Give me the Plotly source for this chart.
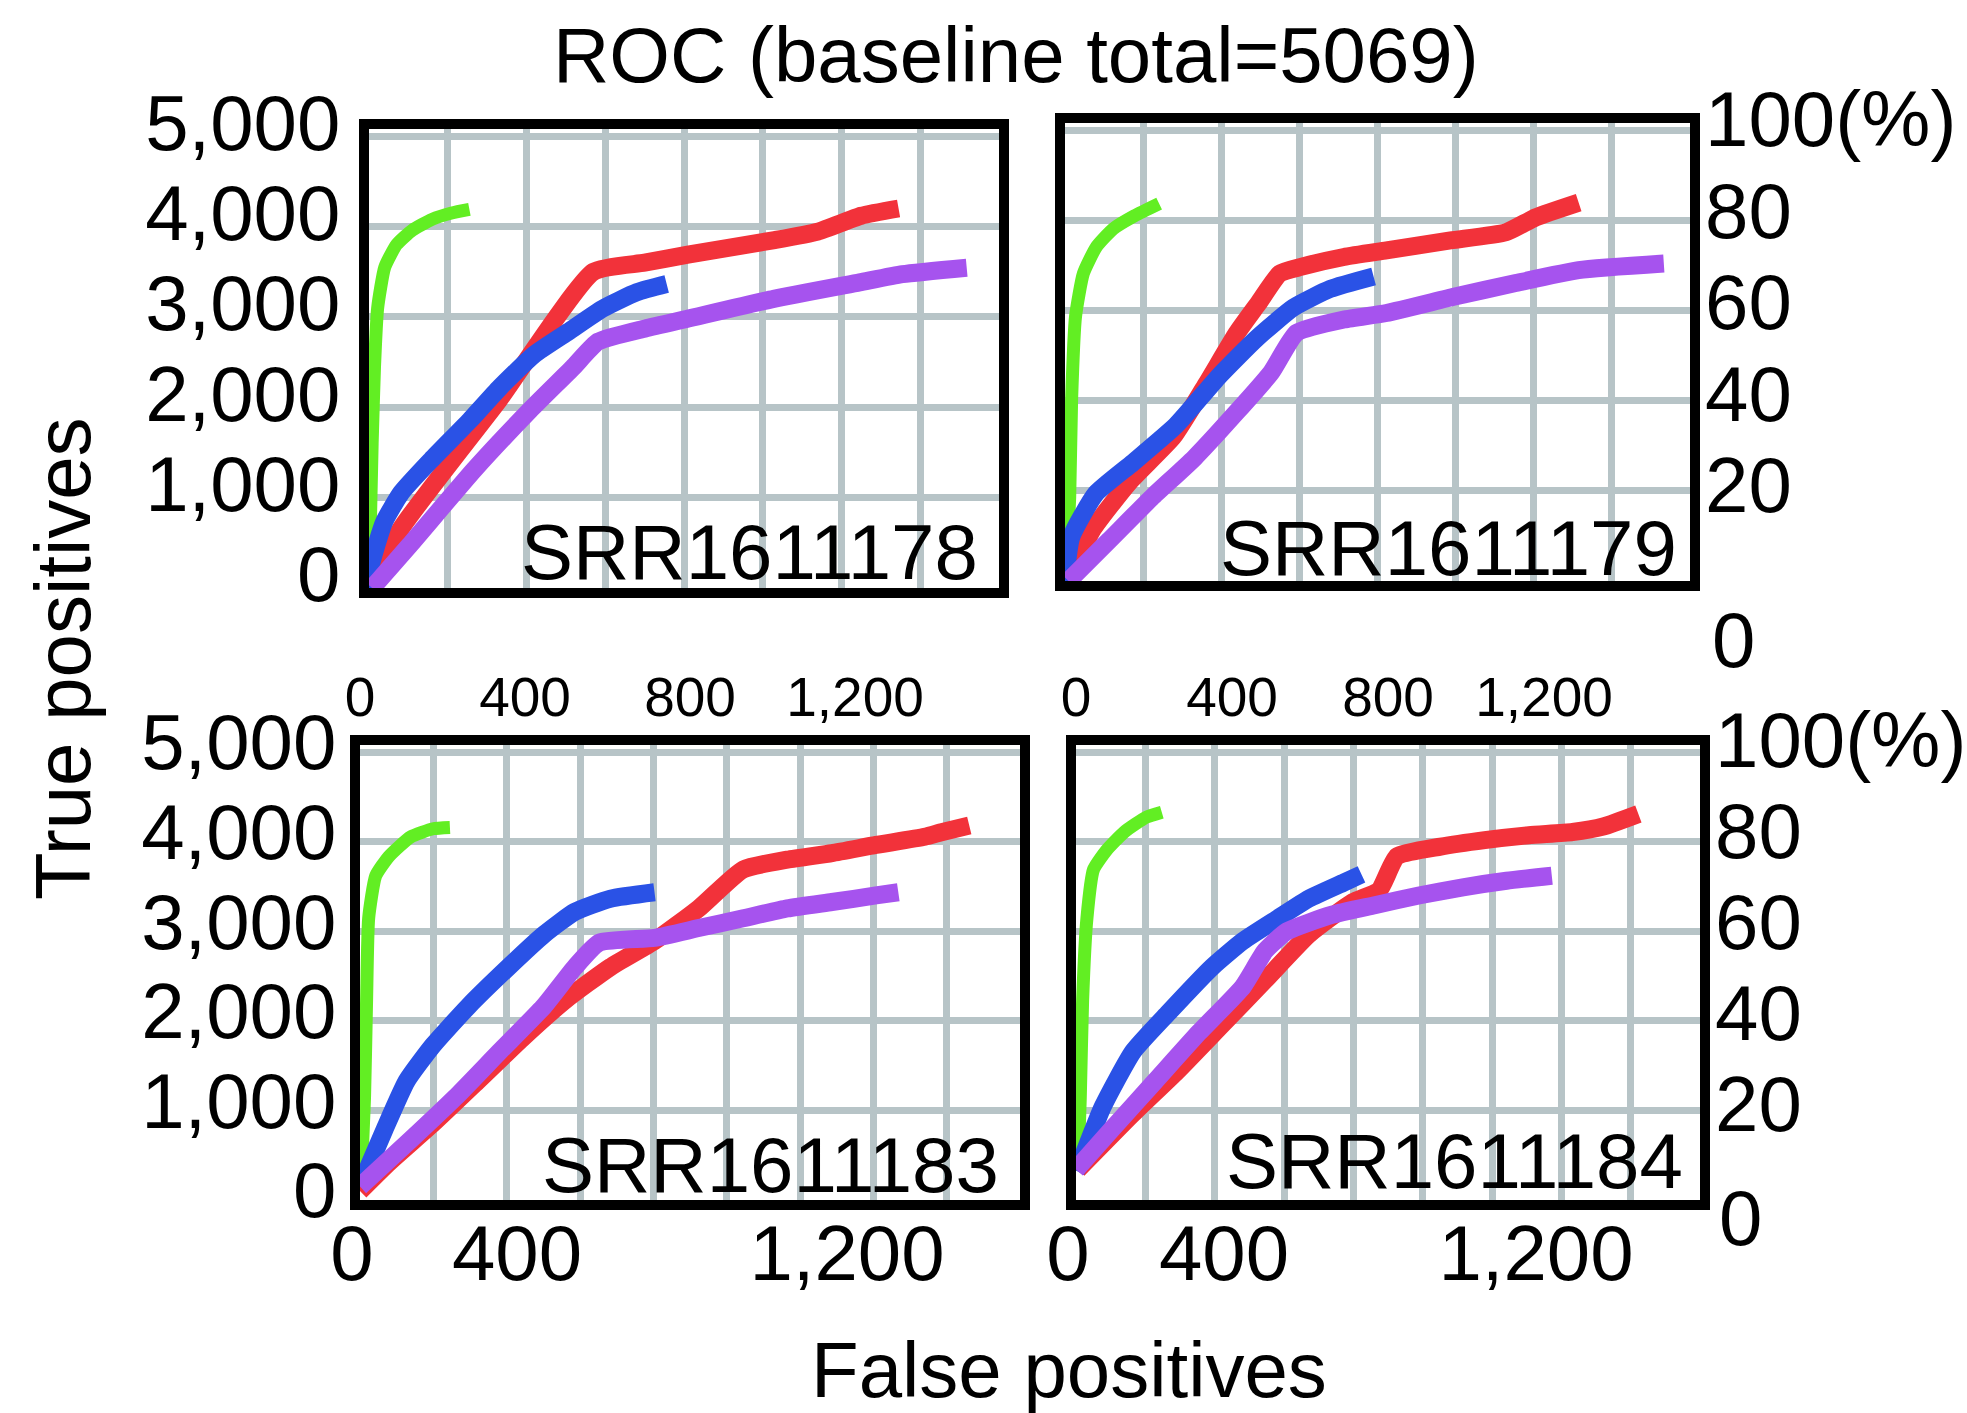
import plotly.graph_objects as go

W, H = 1967, 1413
FONT = "Liberation Sans, Arial, Helvetica, sans-serif"
BIG = 78
SMALL = 55

# ---------------- data (false positives, true positives) ----------------
panels = ["SRR1611178", "SRR1611179", "SRR1611183", "SRR1611184"]
baseline_total = 5069

# SRR1611178
p1_green_x = [0, 3, 8, 14, 22, 40, 70, 110, 160, 210, 255]
p1_green_y = [0, 600, 1600, 2450, 3100, 3550, 3800, 3960, 4080, 4150, 4190]
p1_red_x = [8, 80, 330, 570, 700, 810, 1030, 1140, 1250, 1345]
p1_red_y = [0, 650, 2080, 3500, 3600, 3690, 3850, 3945, 4120, 4200]
p1_blue_x = [0, 5, 38, 82, 158, 256, 332, 419, 506, 593, 680, 756]
p1_blue_y = [0, 255, 727, 1055, 1418, 1855, 2218, 2582, 2836, 3091, 3273, 3364]
p1_purple_x = [8, 103, 267, 408, 517, 582, 702, 811, 1028, 1246, 1355, 1518]
p1_purple_y = [0, 473, 1309, 1964, 2436, 2727, 2873, 2982, 3200, 3382, 3473, 3545]

# SRR1611179
p2_green_x = [0, 5, 12, 17, 27, 47, 80, 123, 178, 241]
p2_green_y = [0, 300, 925, 2022, 2936, 3411, 3704, 3905, 4051, 4186]
p2_red_x = [10, 69, 167, 277, 364, 440, 495, 550, 604, 714, 823, 987, 1129, 1205, 1315]
p2_red_y = [0, 559, 1108, 1600, 2200, 2750, 3080, 3411, 3484, 3594, 3667, 3777, 3868, 4033, 4197]
p2_blue_x = [0, 16, 79, 174, 284, 395, 490, 585, 679, 790]
p2_blue_y = [0, 488, 970, 1314, 1726, 2276, 2689, 3033, 3239, 3377]
p2_purple_x = [9, 113, 222, 331, 440, 528, 593, 714, 823, 998, 1151, 1315, 1533]
p2_purple_y = [0, 450, 925, 1364, 1876, 2314, 2753, 2900, 2973, 3155, 3302, 3448, 3521]

# SRR1611183
p3_green_x = [0, 3, 11, 16, 21, 38, 70, 123, 177, 218]
p3_green_y = [130, 300, 1145, 2236, 3145, 3618, 3836, 4055, 4145, 4160]
p3_red_x = [0, 70, 177, 285, 392, 499, 607, 714, 821, 929, 1036, 1144, 1251, 1369, 1412, 1477]
p3_red_y = [100, 418, 855, 1327, 1800, 2236, 2600, 2891, 3255, 3691, 3800, 3873, 3964, 4055, 4109, 4182]
p3_blue_x = [0, 59, 113, 177, 263, 360, 446, 521, 607, 714]
p3_blue_y = [150, 782, 1327, 1727, 2164, 2600, 2964, 3218, 3364, 3436]
p3_purple_x = [0, 123, 231, 338, 446, 521, 580, 714, 821, 929, 1036, 1144, 1251, 1305]
p3_purple_y = [150, 673, 1145, 1655, 2164, 2600, 2873, 2927, 3036, 3145, 3255, 3327, 3400, 3436]

# SRR1611184
p4_green_x = [0, 6, 11, 17, 28, 45, 79, 124, 180, 220]
p4_green_y = [330, 600, 1145, 2236, 3145, 3691, 3909, 4109, 4273, 4330]
p4_red_x = [5, 146, 259, 372, 485, 597, 710, 777, 823, 935, 1048, 1161, 1273, 1352, 1442]
p4_red_y = [340, 964, 1436, 1945, 2455, 2964, 3327, 3455, 3836, 3945, 4018, 4073, 4109, 4170, 4310]
p4_blue_x = [0, 11, 68, 146, 237, 349, 428, 518, 597, 687, 732]
p4_blue_y = [330, 418, 1036, 1655, 2091, 2600, 2891, 3145, 3364, 3545, 3636]
p4_purple_x = [0, 90, 203, 316, 428, 485, 541, 654, 766, 879, 992, 1104, 1220]
p4_purple_y = [340, 782, 1327, 1873, 2382, 2782, 3000, 3182, 3291, 3400, 3491, 3564, 3620]

y_ticks = [0, 1000, 2000, 3000, 4000, 5000]
pct_ticks = [20, 40, 60, 80, 100]
pct_text = ["20", "40", "60", "80", "100(%)"]
x_top_ticks = [0, 400, 800, 1200]
x_bottom_ticks = [0, 400, 1200]

COLORS = {"green": "#62EE23", "red": "#F2323A", "blue": "#2A52E6", "purple": "#A653EE"}
WIDTHS = {"green": 13, "red": 18, "blue": 18, "purple": 18}
GRID = "#B7C4C7"

series = {
    1: {"green": (p1_green_x, p1_green_y), "red": (p1_red_x, p1_red_y),
        "blue": (p1_blue_x, p1_blue_y), "purple": (p1_purple_x, p1_purple_y)},
    2: {"green": (p2_green_x, p2_green_y), "red": (p2_red_x, p2_red_y),
        "blue": (p2_blue_x, p2_blue_y), "purple": (p2_purple_x, p2_purple_y)},
    3: {"green": (p3_green_x, p3_green_y), "red": (p3_red_x, p3_red_y),
        "blue": (p3_blue_x, p3_blue_y), "purple": (p3_purple_x, p3_purple_y)},
    4: {"green": (p4_green_x, p4_green_y), "red": (p4_red_x, p4_red_y),
        "blue": (p4_blue_x, p4_blue_y), "purple": (p4_purple_x, p4_purple_y)},
}

# inner plot boxes in pixels: x0, x1, ytop, ybottom
boxes = {1: (369, 999, 129, 588), 2: (1065, 1690, 123, 581),
         3: (360, 1020, 745, 1200), 4: (1076, 1700, 745, 1200)}

def dx(a, b):
    return [a / W, b / W]

def dy(top, bot):
    return [1 - bot / H, 1 - top / H]

X_RANGE = [0, 1600]
Y_RANGE = [0, 5080]
PCT_RANGE = [0, 100 * Y_RANGE[1] / baseline_total]

fig = go.Figure()

for p in range(1, 5):
    xa = "x" if p == 1 else f"x{p}"
    ya = "y" if p == 1 else f"y{p}"
    for name in ["green", "red", "blue", "purple"]:
        xs, ys = series[p][name]
        fig.add_trace(go.Scatter(
            x=xs, y=ys, xaxis=xa, yaxis=ya, mode="lines", name=name,
            line=dict(color=COLORS[name], width=WIDTHS[name], shape="spline", smoothing=0.5),
            showlegend=False, hoverinfo="skip"))

# dummy traces so that overlay axes get their subplots
for xa, ya in [("x2", "y5"), ("x4", "y6"), ("x5", "y3"), ("x6", "y4"), ("x7", "y3"), ("x8", "y4")]:
    fig.add_trace(go.Scatter(x=[None], y=[None], xaxis=xa, yaxis=ya, mode="lines",
                             showlegend=False, hoverinfo="skip"))

border = dict(showline=True, linecolor="black", linewidth=10, mirror=True, zeroline=False,
              ticks="", automargin=False)
left_standoff = {1: 3, 3: -2}
left_shift = {1: -14, 3: -10}
layout = {}
for p in range(1, 5):
    x0, x1, yt, yb = boxes[p]
    xk = "xaxis" if p == 1 else f"xaxis{p}"
    yk = "yaxis" if p == 1 else f"yaxis{p}"
    ya = "y" if p == 1 else f"y{p}"
    xa = "x" if p == 1 else f"x{p}"
    top_row = p in (1, 2)
    xd = dict(domain=dx(x0, x1), range=X_RANGE, anchor=ya, **border)
    if top_row:
        xd.update(showgrid=True, gridcolor=GRID, gridwidth=7, dtick=200, tick0=0,
                  showticklabels=False)
    else:
        xd.update(showgrid=False, tickmode="array", tickvals=x_bottom_ticks, tickformat=",d",
                  tickfont=dict(family=FONT, size=BIG, color="black"), ticklabelstandoff=-24,
                  ticklabelshift=-8)
    yd = dict(domain=dy(yt, yb), range=Y_RANGE, anchor=xa, showgrid=True, gridcolor=GRID,
              gridwidth=7, tickmode="array", tickvals=y_ticks, tickformat=",d", **border)
    if p in (1, 3):
        yd.update(showticklabels=True, tickfont=dict(family=FONT, size=BIG, color="black"),
                  ticklabelstandoff=left_standoff[p], ticklabelshift=left_shift[p])
    else:
        yd.update(showticklabels=False)
    layout[xk] = xd
    layout[yk] = yd

# right percentage axes
for key, over, anc, sh in [("yaxis5", "y2", "x2", -5), ("yaxis6", "y4", "x4", -6)]:
    layout[key] = dict(overlaying=over, anchor=anc, side="right", range=PCT_RANGE,
                       showgrid=False, zeroline=False, showline=False, ticks="", automargin=False,
                       tickmode="array", tickvals=pct_ticks, ticktext=pct_text,
                       tickfont=dict(family=FONT, size=BIG, color="black"),
                       ticklabelstandoff=14, ticklabelshift=sh)

# grid axes for bottom panels (9 columns)
for key, over, anc in [("xaxis5", "x3", "y3"), ("xaxis6", "x4", "y4")]:
    layout[key] = dict(overlaying=over, anchor=anc, range=[0, 1800], dtick=200, tick0=0,
                       showgrid=True, gridcolor=GRID, gridwidth=7, zeroline=False, automargin=False,
                       showline=False, showticklabels=False, ticks="")

# small top tick labels of bottom panels
for key, over, anc in [("xaxis7", "x3", "y3"), ("xaxis8", "x4", "y4")]:
    layout[key] = dict(overlaying=over, anchor=anc, side="top", range=X_RANGE,
                       showgrid=False, zeroline=False, showline=False, ticks="", automargin=False,
                       tickmode="array", tickvals=x_top_ticks, tickformat=",d",
                       tickfont=dict(family=FONT, size=SMALL, color="black"), ticklabelstandoff=17)

annotations = [
    dict(text="ROC (baseline total=5069)", x=1016 / W, y=1 - 55 / H, xref="paper", yref="paper",
         showarrow=False, font=dict(family=FONT, size=BIG, color="black"), xanchor="center", yanchor="middle"),
    dict(text="True positives", x=63 / W, y=1 - 659 / H, xref="paper", yref="paper", textangle=-90,
         showarrow=False, font=dict(family=FONT, size=BIG, color="black"), xanchor="center", yanchor="middle"),
    dict(text="False positives", x=1069 / W, y=1 - 1370 / H, xref="paper", yref="paper",
         showarrow=False, font=dict(family=FONT, size=BIG, color="black"), xanchor="center", yanchor="middle"),
    dict(text="0", x=1710 / W, y=1 - 640 / H, xref="paper", yref="paper", showarrow=False,
         font=dict(family=FONT, size=BIG, color="black"), xanchor="left", yanchor="middle"),
    dict(text="0", x=1717 / W, y=1 - 1218 / H, xref="paper", yref="paper", showarrow=False,
         font=dict(family=FONT, size=BIG, color="black"), xanchor="left", yanchor="middle"),
]
srr_pos = {1: (980, 552), 2: (1679, 548), 3: (1001, 1165), 4: (1685, 1161)}
for p in range(1, 5):
    xr, yc = srr_pos[p]
    annotations.append(dict(text=panels[p - 1], x=xr / W, y=1 - yc / H, xref="paper", yref="paper",
                            showarrow=False, font=dict(family=FONT, size=BIG, color="black"),
                            xanchor="right", yanchor="middle"))

fig.update_layout(width=W, height=H, margin=dict(l=0, r=0, t=0, b=0, autoexpand=False),
                  paper_bgcolor="white", plot_bgcolor="white", showlegend=False,
                  font=dict(family=FONT, color="black"), annotations=annotations, **layout)

fig.write_html("out.html", config={"displayModeBar": False},
               post_script="document.body.style.margin='0px';")
